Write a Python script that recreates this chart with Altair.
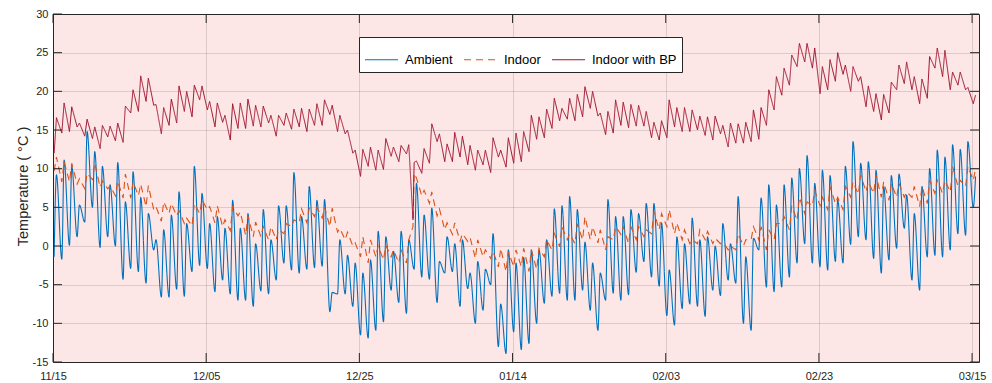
import altair as alt
import pandas as pd

# ---------------- data ----------------
tick_days = [0, 20, 40, 60, 80, 100, 120]
tick_labels = ["11/15", "12/05", "12/25", "01/14", "02/03", "02/23", "03/15"]
y_ticks = [-15, -10, -5, 0, 5, 10, 15, 20, 25, 30]

series_names = ["Ambient", "Indoor", "Indoor with BP"]
series_colors = ["#0072BD", "#D95319", "#A2142F"]

# daily early-morning (am) and afternoon (pm) readings, day 0 = 11/15
ambient_am = [-1.4, -1.7, 0.1, 1.2, 3.1, 5.0, -0.2, 1.2, 0.0, -4.3,
              -2.9, -3.3, -4.8, -0.5, -6.6, -6.6, -5.6, -6.5, -3.3, -2.5,
              -2.9, -5.9, -4.4, -6.2, -7.0, -7.0, -7.8, -5.8, -6.2, -4.4,
              -2.2, -3.1, -3.5, -3.0, -2.8, -2.6, -8.5, -6.2, -6.2, -7.8,
              -11.5, -11.9, -10.9, -9.8, -5.7, -7.3, -8.7, -3.0, -4.0, -4.3,
              -7.3, -3.5, -3.3, -7.8, -5.5, -10.0, -8.3, -5.0, -13.0, -13.9,
              -11.1, -13.4, -12.6, -10.0, -7.4, -6.5, -6.1, -7.0, -7.0, -5.7,
              -8.3, -10.9, -7.0, -6.1, -7.0, -6.3, -3.4, -2.0, -4.0, -5.2,
              -9.0, -10.2, -8.1, -7.5, -7.8, -9.1, -5.7, -6.4, -4.4, -4.8,
              -10.0, -10.9, -0.5, -5.3, -5.9, -5.3, -4.0, -2.2, 0.3, -2.2,
              -2.7, -3.1, -2.0, -2.2, 0.2, 1.2, 0.8, -1.6, -3.5, -1.8,
              -0.3, 2.3, -4.4, -5.7, -1.4, -1.2, -1.4, -0.5, 1.6, 1.4, 5.0]
ambient_pm = [9.2, 11.1, 10.3, 5.3, 14.8, 12.2, 10.3, 7.9, 10.8, 5.7,
              9.6, 6.3, 4.2, 0.8, 2.1, 4.0, 7.0, 2.9, 10.3, 6.8,
              2.9, 3.8, 2.3, 5.9, 2.3, 4.2, 0.3, 4.7, 0.8, 5.2,
              5.2, 9.5, 3.8, 7.7, 5.9, 6.0, -6.0, 0.8, -1.2, -2.2,
              -3.5, -1.8, 1.9, 1.2, -0.7, 1.9, 0.8, 8.1, 4.0, 4.9,
              -2.0, 1.2, 0.3, 0.8, -3.5, -2.0, -3.0, 1.6, -7.5, -0.5,
              -2.2, -1.5, -0.5, -0.5, 0.8, 4.8, 5.2, 6.4, 4.7, 0.5,
              -2.2, -3.5, 6.0, 3.8, 3.8, 4.7, 4.2, 5.5, 5.5, 3.0,
              -3.1, 1.2, 0.3, 3.6, 0.8, 1.2, 0.0, 2.9, 0.3, 6.4,
              -1.4, 1.0, 6.2, 7.9, 5.3, 7.9, 8.8, 10.0, 11.7, 8.1,
              9.8, 9.1, 6.0, 10.3, 13.5, 10.7, 10.9, 9.8, 7.7, 9.1,
              9.3, 6.6, 4.2, 7.7, 10.0, 12.4, 11.5, 13.1, 12.5, 13.5, 9.0]

indoor_am = [9.7, 8.3, 8.3, 8.0, 7.4, 8.6, 7.6, 7.4, 6.5, 6.2,
             6.2, 6.5, 5.1, 4.7, 3.2, 4.2, 3.9, 2.9, 2.6, 4.2,
             4.7, 3.0, 2.5, 2.0, 3.9, 1.4, 1.2, 1.2, 0.8, 0.8,
             1.6, 2.5, 3.0, 3.0, 3.8, 3.6, 2.5, 1.8, 0.8, 0.0,
             -1.4, -2.2, -1.4, -1.8, -1.4, -2.2, -2.2, 9.4, 6.5, 5.5,
             3.9, 2.1, 1.5, 0.6, 0.6, -1.6, -1.4, -1.6, -2.7, -3.3,
             -2.7, -2.7, -3.3, -3.0, -1.4, -0.5, -0.1, 0.8, 0.3, 0.8,
             0.8, 0.4, -0.5, 0.8, 1.5, 0.3, 0.8, 1.2, 1.6, 2.1,
             2.5, 1.6, 0.8, 0.3, 0.3, 0.8, 0.3, 0.3, -0.5, -0.5,
             0.0, 0.8, 0.8, -0.5, 0.8, 2.9, 2.1, 3.3, 4.2, 5.2,
             5.2, 4.7, 5.5, 4.7, 6.3, 6.7, 7.0, 6.8, 6.3, 5.9,
             6.3, 6.3, 6.3, 5.1, 5.5, 6.8, 6.8, 7.0, 7.7, 7.7, 8.5]
indoor_pm = [11.5, 10.9, 10.7, 8.7, 9.4, 10.7, 8.4, 7.8, 8.4, 9.3,
             8.3, 8.0, 7.8, 5.1, 5.7, 5.5, 4.6, 3.6, 5.5, 6.0,
             5.1, 5.2, 3.4, 5.1, 4.4, 3.9, 3.1, 2.5, 2.5, 2.1,
             2.9, 3.4, 4.8, 4.9, 5.0, 5.0, 4.9, 2.3, 1.8, 0.4,
             1.2, 0.8, 0.0, 0.1, -0.5, -0.5, 0.8, 8.8, 7.2, 7.0,
             4.8, 3.0, 3.0, 1.6, 1.1, 0.8, -0.5, -0.7, -0.3, -0.7,
             -0.5, -0.3, -0.5, -0.3, 0.8, 1.6, 2.5, 1.6, 2.9, 3.8,
             2.5, 2.1, 1.2, 2.5, 2.5, 2.5, 2.5, 2.1, 4.4, 4.2,
             4.7, 3.0, 2.1, 0.8, 2.1, 1.9, 1.0, 0.5, 0.0, 1.6,
             0.8, 2.5, 2.5, 2.1, 2.9, 3.8, 5.2, 6.3, 5.7, 7.2,
             6.3, 7.7, 6.3, 7.7, 8.3, 9.2, 8.3, 9.2, 8.3, 8.1,
             8.1, 7.0, 7.7, 7.7, 8.5, 8.5, 8.5, 10.3, 8.5, 10.3, 10.0]

bp_am = [12.0, 14.6, 14.8, 15.4, 14.2, 13.9, 12.6, 14.1, 13.6, 13.4,
         17.2, 17.4, 18.7, 18.2, 14.5, 15.6, 15.9, 17.4, 16.7, 18.9,
         17.6, 15.4, 16.0, 13.7, 15.2, 15.2, 15.5, 15.4, 15.9, 14.2,
         15.6, 15.1, 15.4, 14.8, 15.6, 15.6, 17.0, 14.8, 14.5, 12.0,
         9.0, 10.3, 9.8, 9.9, 11.6, 10.9, 11.9, 10.8, 9.4, 10.7,
         13.5, 10.9, 10.9, 11.5, 10.5, 9.8, 10.5, 9.5, 11.5, 10.2,
         10.7, 10.9, 12.2, 13.8, 14.0, 15.2, 16.2, 16.4, 16.2, 16.7,
         17.8, 16.8, 14.4, 14.6, 15.6, 15.3, 15.5, 15.5, 14.0, 13.7,
         14.0, 15.4, 14.8, 14.8, 15.0, 14.3, 13.7, 14.5, 12.8, 13.3,
         13.3, 13.5, 13.8, 15.6, 17.6, 19.5, 20.8, 23.2, 23.8, 23.0,
         19.7, 20.2, 21.3, 22.2, 20.0, 21.3, 18.0, 17.4, 16.3, 17.2,
         20.2, 21.0, 20.2, 18.4, 19.1, 23.0, 21.9, 20.2, 20.8, 20.2, 18.4]
bp_pm = [16.6, 18.5, 18.0, 15.9, 16.4, 15.4, 15.6, 15.5, 15.9, 18.1,
         20.2, 22.0, 21.7, 18.3, 17.9, 19.0, 20.7, 20.0, 20.8, 20.7,
         18.7, 18.5, 16.9, 18.4, 18.5, 19.0, 18.2, 18.1, 16.9, 16.9,
         17.2, 17.7, 17.8, 17.7, 18.4, 18.9, 18.2, 16.9, 15.0, 12.4,
         12.5, 12.8, 12.4, 13.9, 12.8, 13.0, 13.1, 11.0, 12.6, 15.8,
         14.5, 13.2, 14.7, 14.2, 13.0, 12.4, 12.4, 14.0, 12.4, 14.0,
         14.6, 14.8, 16.9, 16.7, 17.7, 19.1, 17.8, 19.1, 19.6, 20.6,
         20.0, 17.2, 17.4, 18.9, 18.6, 18.3, 18.2, 17.4, 16.0, 16.2,
         18.9, 17.9, 17.9, 17.6, 16.8, 16.7, 16.8, 15.6, 15.9, 15.8,
         16.0, 17.6, 17.9, 20.2, 21.9, 23.0, 24.7, 26.2, 26.2, 25.6,
         23.2, 24.1, 25.0, 23.4, 23.2, 21.9, 20.7, 19.7, 19.6, 21.2,
         23.4, 23.8, 21.9, 21.6, 24.5, 25.6, 25.3, 22.5, 22.5, 20.5, 19.5]

# sensor reset around 12/02 (day 47)
jump_day = 47.0
jump_series = ["Indoor", "Indoor with BP"]
jump_values = [2.5, 3.4]

# ---------------- build table ----------------
AM_OFF, PM_OFF = 0.15, 0.45
rows = []
for name, am, pm in [("Ambient", ambient_am, ambient_pm),
                     ("Indoor", indoor_am, indoor_pm),
                     ("Indoor with BP", bp_am, bp_pm)]:
    for d, (a, p) in enumerate(zip(am, pm)):
        rows.append((d + AM_OFF, a, name))
        rows.append((d + PM_OFF, p, name))
for s, v in zip(jump_series, jump_values):
    rows.append((jump_day, v, s))
df = pd.DataFrame(rows, columns=["day", "temp", "series"]).sort_values(["series", "day"])

W, H = 926, 348
TK = 9
INK = "#262626"

label_js = "[" + ",".join("'" + t + "'" for t in tick_labels) + "]"

x_scale = alt.Scale(domain=[0, 120.9], nice=False, zero=False)
y_scale = alt.Scale(domain=[-15, 30], nice=False, zero=False)

x_axis = alt.Axis(values=tick_days, labelExpr=label_js + "[round(datum.value/20)]",
                  title=None, labelFlush=False, labelOverlap=False,
                  labelPadding=8, grid=True)
y_axis = alt.Axis(values=y_ticks, labelExpr="'' + datum.value",
                  labelOverlap=False, labelFlush=False,
                  title="Temperature ( °C )", labelPadding=5, grid=True,
                  titleX=-30, titleY=172, titleAngle=270,
                  titleAlign="center", titleBaseline="middle",
                  titleFontSize=14.5, titleFontWeight="normal",
                  titleColor=INK, titleFont="Liberation Sans")

x_enc = alt.X("day:Q", scale=x_scale, axis=x_axis)
y_enc = alt.Y("temp:Q", scale=y_scale, axis=y_axis)

legend_kw = dict(
    title=None, orient="none", legendX=306, legendY=23, direction="horizontal", columns=3,
    fillColor="white", strokeColor=INK, padding=5, cornerRadius=0,
    labelFont="Liberation Sans", labelFontSize=13, labelColor="black",
    symbolType="stroke", symbolSize=1089, symbolStrokeWidth=1.1,
    columnPadding=8, labelOffset=6,
)
color_enc = alt.Color("series:N", title=None,
                      scale=alt.Scale(domain=series_names, range=series_colors),
                      legend=alt.Legend(**legend_kw))
dash_enc = alt.StrokeDash("series:N", title=None,
                          scale=alt.Scale(domain=series_names, range=[[1, 0], [7, 5], [1, 0]]),
                          legend=alt.Legend(**legend_kw))

base = alt.Chart(df)


def series_layer(name, interp, sw):
    return base.transform_filter(alt.datum.series == name).mark_line(
        interpolate=interp, strokeWidth=sw, clip=True
    ).encode(x=x_enc, y=y_enc, color=color_enc, strokeDash=dash_enc)


amb = series_layer("Ambient", "monotone", 1.1)
ind = series_layer("Indoor", "linear", 1.1)
bp = series_layer("Indoor with BP", "linear", 1.0)

# inward tick marks on all four sides (MATLAB box style)
ydf = pd.DataFrame({"temp": y_ticks})
xdf = pd.DataFrame({"day": tick_days})
rule_kw = dict(color=INK, strokeWidth=1)
left_t = alt.Chart(ydf).mark_rule(**rule_kw).encode(
    y=y_enc, x=alt.value(0), x2=alt.value(TK))
right_t = alt.Chart(ydf).mark_rule(**rule_kw).encode(
    y=y_enc, x=alt.value(W - TK), x2=alt.value(W))
bot_t = alt.Chart(xdf).mark_rule(**rule_kw).encode(
    x=x_enc, y=alt.value(H - TK), y2=alt.value(H))
top_t = alt.Chart(xdf).mark_rule(**rule_kw).encode(
    x=x_enc, y=alt.value(0), y2=alt.value(TK))

chart = alt.layer(amb, ind, bp, left_t, right_t, bot_t, top_t).properties(
    width=W, height=H,
    autosize=alt.AutoSizeParams(type="none"),
    padding={"left": 53, "top": 14, "right": 13, "bottom": 21},
    background="white",
).configure_view(
    fill="#FDE6E6", stroke=INK, strokeWidth=1
).configure_axis(
    labelFont="Liberation Sans", labelFontSize=11, labelColor=INK,
    ticks=False, domain=False,
    gridColor=INK, gridOpacity=0.15, gridWidth=1,
)

chart.save("out.html", embed_options={"renderer": "svg", "actions": False})
